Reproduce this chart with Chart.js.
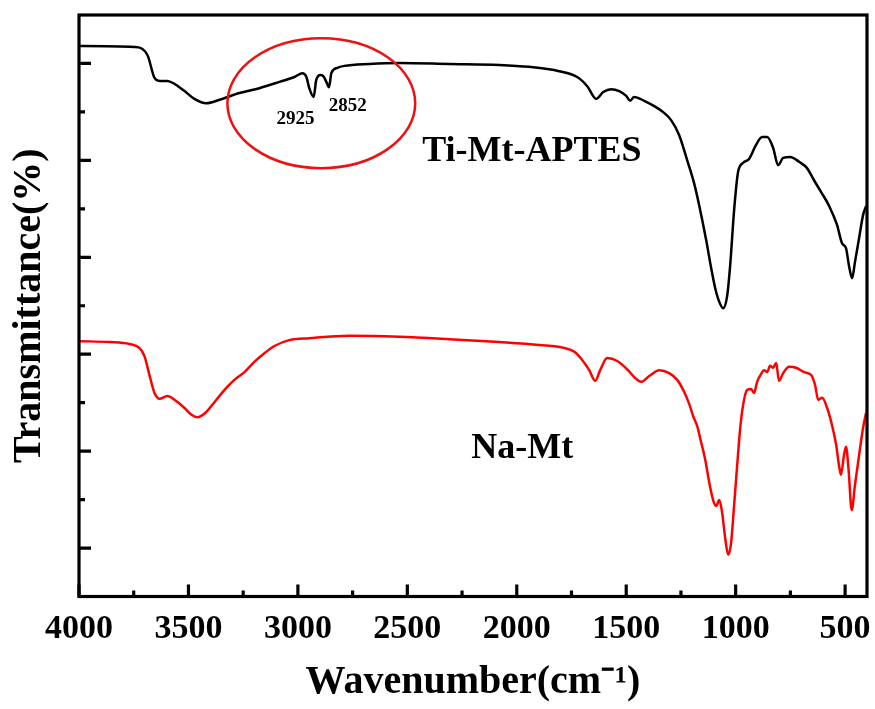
<!DOCTYPE html>
<html><head><meta charset="utf-8">
<script src="https://cdn.jsdelivr.net/npm/chart.js@4"></script>
<style>html,body{margin:0;padding:0;background:#fff}#wrap{width:875px;height:709px}</style>
</head><body><div id="wrap"><canvas id="c" width="875" height="709"></canvas></div>
<script>
// ---- data ----
const tiWavenumber = [4000,3747,3687,3655,3632,3596,3564,3518,3473,3418,3358,3267,3176,3084,3016,2979,2961,2948,2928,2916,2897,2884,2870,2858,2847,2820,2788,2674,2537,2308,2080,1943,1806,1724,1678,1637,1605,1569,1532,1500,1482,1464,1418,1372,1327,1295,1258,1222,1190,1167,1135,1112,1094,1075,1057,1039,1025,1007,989,966,939,907,879,856,829,806,783,751,710,674,642,610,573,537,514,496,482,468,455,436,418,404];
const tiTransmittance = [113.6,113.4,111.7,107.0,106.4,106.4,105.8,104.3,102.7,101.8,102.5,103.9,104.9,106.2,107.2,108.0,107.2,104.9,103.1,106.6,107.6,107.4,106.2,105.1,108.0,109.1,109.5,109.9,110.1,109.9,109.7,109.3,108.4,107.2,105.3,102.7,104.1,104.7,104.3,103.3,102.3,103.1,102.3,101.2,99.8,98.3,95.2,90.1,85.3,80.8,73.6,67.8,63.7,60.8,59.5,62.0,68.4,79.8,87.6,89.5,90.3,93.2,94.8,94.8,92.6,89.0,90.5,90.7,89.7,88.4,85.9,83.5,80.6,76.7,72.9,71.9,68.2,65.7,69.0,74.0,78.7,80.6];
const naWavenumber = [4000,3861,3769,3724,3701,3678,3655,3632,3596,3564,3518,3486,3459,3427,3381,3336,3290,3244,3199,3153,3107,3039,2947,2765,2537,2308,2080,1897,1783,1737,1701,1669,1642,1619,1587,1541,1496,1459,1432,1395,1349,1304,1267,1235,1212,1194,1176,1158,1139,1121,1103,1089,1075,1062,1048,1034,1021,1007,993,980,966,948,929,916,902,884,870,856,843,829,815,802,783,756,724,687,655,637,623,605,582,560,541,528,519,505,496,484,470,455,436,418,404];
const naTransmittance = [52.7,52.5,52.1,51.3,49.6,45.7,42.0,40.8,41.4,40.6,38.9,37.5,37.0,37.7,40.1,42.6,44.7,46.3,48.4,50.2,51.7,52.9,53.3,53.8,53.6,53.1,52.5,51.9,51.3,50.5,48.8,46.7,44.5,46.7,49.2,48.6,46.9,45.1,44.3,45.5,46.7,46.1,44.7,42.2,39.7,37.2,35.2,31.9,28.2,23.6,19.9,18.7,19.9,17.4,12.1,8.6,11.0,18.9,27.1,34.4,39.5,42.6,42.8,42.0,44.3,45.9,46.7,46.3,47.6,47.2,48.2,44.5,46.1,47.4,47.2,46.3,45.7,43.6,40.6,41.0,38.9,35.4,31.3,27.1,25.1,29.2,30.9,26.1,17.8,23.0,29.2,34.8,37.9];
const xTickValues = [500,1000,1500,2000,2500,3000,3500,4000];
const xMinorTicks = [750,1250,1750,2250,2750,3250,3750];
const yMajorTicks = [10,30,50,70,90,110];
const yMinorTicks = [20,40,60,80,100];
const seriesNames = ['Ti-Mt-APTES','Na-Mt'];
const peakLabels = ['2925','2852'];

const SERIF = '"Liberation Serif", "Times New Roman", Times, serif';

const framePlugin = {
  id: 'frame',
  afterDatasetsDraw(chart) {
    const {ctx, chartArea: a, scales: {x, y}} = chart;
    ctx.save();
    ctx.strokeStyle = '#000';
    ctx.lineWidth = 3.2;
    ctx.strokeRect(a.left, a.top, a.right - a.left, a.bottom - a.top);
    ctx.beginPath();
    xTickValues.forEach(v => { const p = x.getPixelForValue(v); ctx.moveTo(p, a.bottom); ctx.lineTo(p, a.bottom - 12); });
    xMinorTicks.forEach(v => { const p = x.getPixelForValue(v); ctx.moveTo(p, a.bottom); ctx.lineTo(p, a.bottom - 6); });
    yMajorTicks.forEach(v => { const p = y.getPixelForValue(v); ctx.moveTo(a.left, p); ctx.lineTo(a.left + 12, p); });
    yMinorTicks.forEach(v => { const p = y.getPixelForValue(v); ctx.moveTo(a.left, p); ctx.lineTo(a.left + 6, p); });
    ctx.stroke();

    // annotations
    ctx.fillStyle = '#000';
    ctx.textBaseline = 'alphabetic';
    ctx.font = 'bold 36px ' + SERIF;
    ctx.textAlign = 'left';
    ctx.fillText(seriesNames[0], x.getPixelForValue(2432), y.getPixelForValue(89.8));
    ctx.fillText(seriesNames[1], x.getPixelForValue(2208), y.getPixelForValue(28.5));
    ctx.font = 'bold 19px ' + SERIF;
    ctx.textAlign = 'center';
    ctx.fillText(peakLabels[0], x.getPixelForValue(3011), y.getPixelForValue(97.6));
    ctx.fillText(peakLabels[1], x.getPixelForValue(2772), y.getPixelForValue(100.2));

    // ellipse around the 2925/2852 peaks
    const cx = x.getPixelForValue(2893), cy = y.getPixelForValue(101.8);
    const rx = Math.abs(x.getPixelForValue(2893 - 429) - cx);
    const ry = Math.abs(y.getPixelForValue(101.8 + 13.4) - cy);
    ctx.beginPath();
    ctx.strokeStyle = '#ee1111';
    ctx.lineWidth = 2.5;
    ctx.ellipse(cx, cy, rx, ry, 0, 0, Math.PI * 2);
    ctx.stroke();
    ctx.restore();
  }
};

new Chart(document.getElementById('c'), {
  type: 'line',
  data: {
    datasets: [
      { label: seriesNames[0], data: tiWavenumber.map((w, i) => ({x: w, y: tiTransmittance[i]})),
        borderColor: '#000', borderWidth: 2.5, pointRadius: 0, cubicInterpolationMode: 'monotone', fill: false },
      { label: seriesNames[1], data: naWavenumber.map((w, i) => ({x: w, y: naTransmittance[i]})),
        borderColor: '#ff0000', borderWidth: 2.5, pointRadius: 0, cubicInterpolationMode: 'monotone', fill: false }
    ]
  },
  options: {
    responsive: false, animation: false, devicePixelRatio: 1,
    layout: { padding: { top: 15, right: 8, left: 0, bottom: 0 } },
    plugins: { legend: { display: false }, tooltip: { enabled: false } },
    scales: {
      x: {
        type: 'linear', reverse: true, min: 400, max: 4000,
        afterBuildTicks: s => { s.ticks = xTickValues.map(v => ({value: v})); },
        afterFit: s => { s.height = 112.5; s.paddingLeft = 0; s.paddingRight = 0; },
        grid: { display: false, drawTicks: false },
        border: { display: false },
        ticks: { color: '#000', font: { family: SERIF, size: 34, weight: 'bold' }, padding: 12, maxRotation: 0, autoSkip: false,
                 callback: v => String(v) },
        title: { display: true, text: 'Wavenumber(cm⁻¹)', color: '#000', font: { family: SERIF, size: 40, weight: 'bold' }, padding: { top: 0, bottom: 2 } }
      },
      y: {
        min: 0, max: 120,
        afterFit: s => { s.width = 79; },
        grid: { display: false, drawTicks: false },
        border: { display: false },
        ticks: { display: false },
        title: { display: true, text: 'Transmittance(%)', color: '#000', font: { family: SERIF, size: 40, weight: 'bold' }, padding: { top: 6, bottom: 0 } }
      }
    }
  },
  plugins: [framePlugin]
});
</script>
</body></html>
